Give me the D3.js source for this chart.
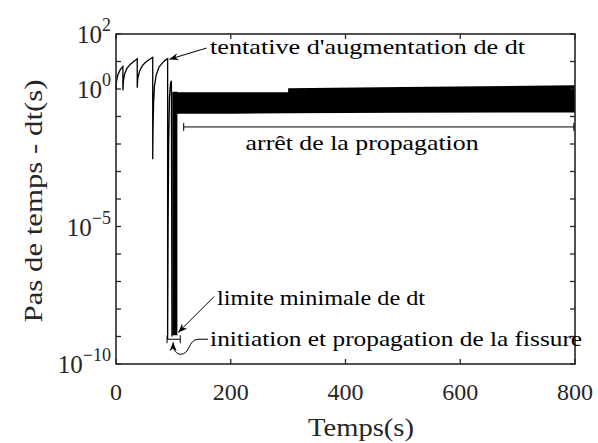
<!DOCTYPE html>
<html>
<head>
<meta charset="utf-8">
<script src="https://cdn.jsdelivr.net/npm/d3@7"></script>
<style>
  html, body { margin: 0; padding: 0; background: #fff; }
  svg { display: block; }
</style>
</head>
<body>
<svg id="chart" width="598" height="443"></svg>
<script>
// ---------------- data ----------------
// thin adaptive-step curve: time (s) and log10(dt)
const curveT   = [0, 1, 3, 6, 9, 12, 12, 13, 15, 19, 25, 31, 37, 37, 38, 41, 46, 52, 58, 64, 64, 64.5, 65.5, 67, 70, 75, 81, 86, 90, 90, 90.8, 91.8, 93.2, 95, 96.5, 97.5];
const curveLog = [0, 0.3, 0.5, 0.65, 0.75, 0.82, -0.05, 0.3, 0.55, 0.75, 0.9, 1.0, 1.1, 0.05, 0.4, 0.65, 0.85, 0.98, 1.07, 1.15, -2.55, -1.5, -0.5, 0.1, 0.5, 0.8, 0.95, 1.05, 1.1, -9.1, -5, -2, -0.3, 0.2, 0.3, -9.0];
// dense oscillating band (envelope) : time, lower and upper log10(dt)
const bandT   = [98, 107, 107, 200, 300, 300, 500, 800];
const bandLo  = [-8.95, -8.95, -0.9, -0.9, -0.88, -0.88, -0.86, -0.85];
const bandHi  = [-0.1, -0.1, -0.12, -0.12, -0.12, 0.03, 0.07, 0.14];
// axes
const xTicks = [0, 200, 400, 600, 800];
const yTickExp = [2, 0, -5, -10];
const yMinorExp = d3.range(-10, 3);

// ---------------- layout ----------------
const FONT = "'Liberation Serif', 'DejaVu Serif', serif";
const svg = d3.select("#chart").attr("font-family", FONT);
const x = d3.scaleLinear().domain([0, 800]).range([116, 575]);
const y = d3.scaleLog().domain([1e-10, 1e2]).range([364, 34]);
const ink = "#262626";

const line = d3.line().x((d, i) => x(curveT[i])).y((d, i) => y(Math.pow(10, curveLog[i])));
const area = d3.area()
  .x((d, i) => x(bandT[i]))
  .y0((d, i) => y(Math.pow(10, bandLo[i])))
  .y1((d, i) => y(Math.pow(10, bandHi[i])));

svg.append("path").attr("d", area(bandT)).attr("fill", "#000");
svg.append("path").attr("d", line(curveT)).attr("fill", "none").attr("stroke", "#000").attr("stroke-width", 1.3);

const x0 = x.range()[0], x1 = x.range()[1], y0 = y.range()[0], y1 = y.range()[1];
svg.append("rect").attr("x", x0).attr("y", y1).attr("width", x1 - x0).attr("height", y0 - y1)
  .attr("fill", "none").attr("stroke", ink).attr("stroke-width", 1.6);

const tl = 5;
const xt = svg.append("g").attr("fill", ink);
xTicks.forEach(t => {
  xt.append("line").attr("x1", x(t)).attr("x2", x(t)).attr("y1", y0).attr("y2", y0 - tl).attr("stroke", ink).attr("stroke-width", 1.3);
  xt.append("line").attr("x1", x(t)).attr("x2", x(t)).attr("y1", y1).attr("y2", y1 + tl).attr("stroke", ink).attr("stroke-width", 1.3);
  xt.append("text").attr("x", x(t)).attr("y", y0 + 36).attr("text-anchor", "middle").attr("font-size", 24).text(t);
});
yMinorExp.forEach(e => {
  const yy = y(Math.pow(10, e));
  xt.append("line").attr("x1", x0).attr("x2", x0 + tl).attr("y1", yy).attr("y2", yy).attr("stroke", ink).attr("stroke-width", 1.3);
  xt.append("line").attr("x1", x1).attr("x2", x1 - tl).attr("y1", yy).attr("y2", yy).attr("stroke", ink).attr("stroke-width", 1.3);
});
yTickExp.forEach(e => {
  const yy = y(Math.pow(10, e));
  const t = xt.append("text").attr("x", x0 - 5).attr("y", yy + 9).attr("text-anchor", "end").attr("font-size", 25);
  t.append("tspan").text("10");
  t.append("tspan").attr("dy", -12).attr("font-size", 18).text(e < 0 ? "\u2212" + (-e) : e);
});

svg.append("text").attr("fill", ink).attr("x", 361).attr("y", 436).attr("text-anchor", "middle")
  .attr("font-size", 25).attr("textLength", 106).attr("lengthAdjust", "spacingAndGlyphs").text("Temps(s)");
svg.append("text").attr("fill", ink).attr("transform", `translate(42,${(y0 + y1) / 2 + 2}) rotate(-90)`).attr("text-anchor", "middle")
  .attr("font-size", 25).attr("textLength", 243).attr("lengthAdjust", "spacingAndGlyphs").text("Pas de temps - dt(s)");

// ---------------- annotations ----------------
const defs = svg.append("defs");
defs.append("marker").attr("id", "ah").attr("viewBox", "0 0 10 10").attr("refX", 10).attr("refY", 5)
  .attr("markerWidth", 9).attr("markerHeight", 9).attr("markerUnits", "userSpaceOnUse").attr("orient", "auto")
  .append("path").attr("d", "M0,1 L10,5 L0,9 L3,5 Z").attr("fill", "#000");

const P = (t, l) => [x(t), y(Math.pow(10, l))];
const note = (px, py, txt, len, fs, anchor) => svg.append("text").attr("x", px).attr("y", py)
  .attr("font-size", fs).attr("text-anchor", anchor || "start")
  .attr("textLength", len).attr("lengthAdjust", "spacingAndGlyphs").text(txt);

const a1s = P(158, 1.49), a1e = P(93, 1.08);
svg.append("line").attr("x1", a1s[0]).attr("y1", a1s[1]).attr("x2", a1e[0]).attr("y2", a1e[1]).attr("stroke", "#000").attr("stroke-width", 1).attr("marker-end", "url(#ah)");
const t1 = P(164, 1.49);
note(t1[0], t1[1] + 6, "tentative d'augmentation de dt", 315, 21);

const b0 = P(118, -1.38), b1 = P(798, -1.38);
svg.append("line").attr("x1", b0[0]).attr("x2", b1[0]).attr("y1", b0[1]).attr("y2", b1[1]).attr("stroke", "#000").attr("stroke-width", 1);
[b0, b1].forEach(p => svg.append("line").attr("x1", p[0]).attr("x2", p[0]).attr("y1", p[1] - 4).attr("y2", p[1] + 4).attr("stroke", "#000").attr("stroke-width", 1));
note(x(429), b0[1] + 23, "arrêt de la propagation", 233, 21, "middle");

const a2s = P(171, -7.55), a2e = P(108.5, -8.85);
svg.append("line").attr("x1", a2s[0]).attr("y1", a2s[1]).attr("x2", a2e[0]).attr("y2", a2e[1]).attr("stroke", "#000").attr("stroke-width", 1).attr("marker-end", "url(#ah)");
note(a2s[0] + 3, a2s[1] + 8, "limite minimale de dt", 208, 21);

const h0 = P(89, -9.1), h1 = P(112, -9.1);
svg.append("line").attr("x1", h0[0]).attr("x2", h1[0]).attr("y1", h0[1]).attr("y2", h1[1]).attr("stroke", "#000").attr("stroke-width", 1);
[h0, h1].forEach(p => svg.append("line").attr("x1", p[0]).attr("x2", p[0]).attr("y1", p[1] - 4).attr("y2", p[1] + 4).attr("stroke", "#000").attr("stroke-width", 1));
const c0 = P(164, -9.1);
const cp = d3.path();
cp.moveTo(c0[0] - 2, c0[1]);
cp.lineTo(c0[0] - 12, c0[1]);
cp.bezierCurveTo(c0[0] - 22, c0[1], c0[0] - 20, c0[1] + 16, c0[0] - 30, c0[1] + 15);
cp.bezierCurveTo(c0[0] - 36, c0[1] + 14, c0[0] - 37, c0[1] + 8, c0[0] - 37, c0[1] + 3);
svg.append("path").attr("d", cp.toString()).attr("fill", "none").attr("stroke", "#000").attr("stroke-width", 1).attr("marker-end", "url(#ah)");
note(c0[0], c0[1] + 7, "initiation et propagation de la fissure", 372, 21);
</script>
</body>
</html>
